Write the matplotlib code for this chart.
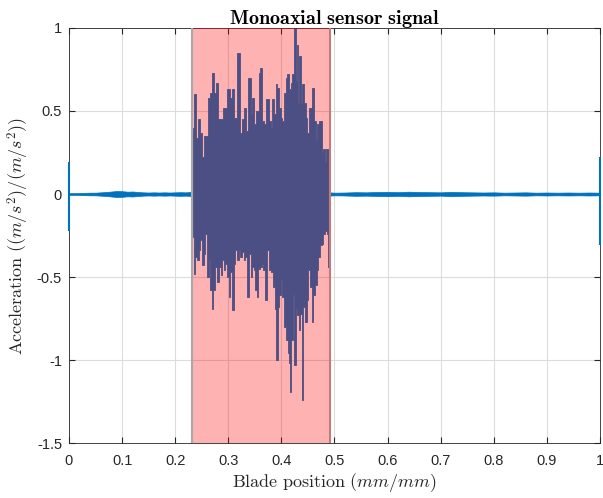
import numpy as np
import matplotlib
matplotlib.use('Agg')
import matplotlib.pyplot as plt

# signal: quiet noise band, burst peaks, edge spikes
quiet_left_x = [0.00, 0.01, 0.02, 0.03, 0.04, 0.05, 0.06, 0.07, 0.08, 0.09, 0.10, 0.11,
                0.12, 0.13, 0.14, 0.15, 0.16, 0.17, 0.18, 0.19, 0.20, 0.21, 0.22, 0.232]
quiet_left_amp = [0.005, 0.005, 0.006, 0.007, 0.008, 0.008, 0.010, 0.012, 0.015, 0.018, 0.017, 0.014,
                  0.015, 0.012, 0.010, 0.009, 0.010, 0.009, 0.010, 0.009, 0.010, 0.011, 0.010, 0.013]
quiet_right_x = [0.49, 0.50, 0.52, 0.54, 0.56, 0.58, 0.60, 0.62, 0.64, 0.66, 0.68, 0.70,
                 0.72, 0.74, 0.76, 0.78, 0.80, 0.82, 0.84, 0.86, 0.88, 0.90, 0.92, 0.94,
                 0.96, 0.98, 1.00]
quiet_right_amp = [0.010, 0.008, 0.009, 0.011, 0.010, 0.012, 0.013, 0.011, 0.014, 0.012, 0.011, 0.010,
                   0.013, 0.011, 0.010, 0.009, 0.010, 0.008, 0.009, 0.010, 0.008, 0.009, 0.008, 0.009,
                   0.008, 0.009, 0.008]

upper_x = [0.2335, 0.2373, 0.2420, 0.2448, 0.2486, 0.2518, 0.2561, 0.2600, 0.2637, 0.2674,
           0.2712, 0.2750, 0.2787, 0.2825, 0.2881, 0.2938, 0.3013, 0.3051, 0.3089, 0.3126,
           0.3202, 0.3239, 0.3277, 0.3315, 0.3352, 0.3409, 0.3437, 0.3465, 0.3503, 0.3559,
           0.3597, 0.3616, 0.3653, 0.3691, 0.3748, 0.3785, 0.3823, 0.3842, 0.3879, 0.3917,
           0.3936, 0.3974, 0.4011, 0.4030, 0.4087, 0.4105, 0.4124, 0.4162, 0.4200, 0.4218,
           0.4256, 0.4294, 0.4313, 0.4331, 0.4350, 0.4388, 0.4407, 0.4444, 0.4482, 0.4501,
           0.4539, 0.4576, 0.4595, 0.4633, 0.4670, 0.4689, 0.4727, 0.4765, 0.4783, 0.4802,
           0.4840, 0.4859, 0.4896]
upper_val = [0.40, 0.60, 0.34, 0.45, 0.37, 0.22, 0.35, 0.35, 0.58, 0.61,
             0.73, 0.61, 0.67, 0.45, 0.45, 0.52, 0.63, 0.58, 0.63, 0.46,
             0.85, 0.37, 0.45, 0.52, 0.38, 0.70, 0.48, 0.58, 0.42, 0.50,
             0.73, 0.76, 0.44, 0.42, 0.57, 0.44, 0.40, 0.57, 0.48, 0.66,
             0.64, 0.52, 0.46, 0.44, 0.61, 0.70, 0.72, 0.63, 0.67, 0.72,
             1.00, 0.68, 0.90, 0.55, 0.83, 0.55, 0.66, 0.55, 0.46, 0.37,
             0.52, 0.52, 0.64, 0.44, 0.33, 0.42, 0.44, 0.44, 0.25, 0.27,
             0.19, 0.27, 0.27]

lower_x = [0.2335, 0.2367, 0.2398, 0.2429, 0.2461, 0.2492, 0.2524, 0.2555, 0.2586, 0.2618,
           0.2650, 0.2680, 0.2700, 0.2731, 0.2774, 0.2806, 0.2838, 0.2869, 0.2900, 0.2932,
           0.2963, 0.2994, 0.3026, 0.3057, 0.3089, 0.3120, 0.3151, 0.3183, 0.3214, 0.3245,
           0.3277, 0.3309, 0.3339, 0.3371, 0.3403, 0.3434, 0.3465, 0.3497, 0.3527, 0.3559,
           0.3578, 0.3616, 0.3640, 0.3678, 0.3710, 0.3742, 0.3785, 0.3829, 0.3866, 0.3898,
           0.3917, 0.3942, 0.3974, 0.4005, 0.4036, 0.4081, 0.4105, 0.4130, 0.4156, 0.4175,
           0.4206, 0.4237, 0.4256, 0.4288, 0.4318, 0.4350, 0.4369, 0.4394, 0.4426, 0.4463,
           0.4495, 0.4526, 0.4552, 0.4589, 0.4620, 0.4652, 0.4683, 0.4714, 0.4746, 0.4778,
           0.4808, 0.4840, 0.4864, 0.4883, 0.4906]
lower_val = [-0.26, -0.48, -0.38, -0.40, -0.34, -0.28, -0.43, -0.36, -0.24, -0.50,
             -0.40, -0.58, -0.69, -0.58, -0.44, -0.53, -0.44, -0.49, -0.40, -0.46,
             -0.42, -0.50, -0.62, -0.47, -0.70, -0.42, -0.34, -0.40, -0.34, -0.38,
             -0.35, -0.40, -0.38, -0.62, -0.36, -0.50, -0.44, -0.46, -0.58, -0.62,
             -0.45, -0.44, -0.42, -0.46, -0.64, -0.34, -0.46, -0.47, -0.56, -0.69,
             -1.00, -0.68, -0.61, -0.52, -0.62, -0.80, -0.88, -0.96, -1.02, -1.19,
             -0.88, -0.61, -1.03, -0.69, -0.73, -0.82, -0.72, -1.24, -0.68, -0.77,
             -0.64, -0.46, -0.56, -0.77, -0.61, -0.55, -0.46, -0.38, -0.31, -0.30,
             -0.24, -0.22, -0.24, -0.44, -0.20]

spike_x = [0.0, 1.0]
spike_top = [0.19, 0.22]
spike_bottom = [-0.22, -0.31]

span_start, span_end = 0.232, 0.4915

plt.rcParams['mathtext.fontset'] = 'cm'
plt.rcParams['axes.unicode_minus'] = False
plt.rcParams['font.family'] = ['Liberation Sans', 'DejaVu Sans']

blue = '#0072BD'
fig = plt.figure(figsize=(6.03, 4.98), dpi=100)
ax = fig.add_axes([0.1144, 0.1104, 0.8806, 0.8334])

ax.fill_between(quiet_left_x, -np.array(quiet_left_amp), quiet_left_amp,
                color=blue, lw=0.5)
ax.fill_between(quiet_right_x, -np.array(quiet_right_amp), quiet_right_amp,
                color=blue, lw=0.5)
ax.fill_between(upper_x, 0, upper_val, color=blue, lw=0.6, step='mid')
ax.fill_between(lower_x, lower_val, 0, color=blue, lw=0.6, step='mid')
ax.vlines(spike_x, spike_bottom, spike_top, color=blue, lw=1.5, clip_on=False, zorder=5)

ax.axvspan(span_start, span_end, facecolor='red', alpha=0.3, edgecolor='none', zorder=3)
ax.axvline(span_start, color='#a8a8a8', lw=1.5, zorder=4)
ax.axvline(span_end, color='#c27a7a', lw=1.5, zorder=4)

ax.set_xlim(0, 1)
ax.set_ylim(-1.5, 1)
ax.set_xticks(np.arange(0, 1.01, 0.1))
ax.set_xticklabels(['0', '0.1', '0.2', '0.3', '0.4', '0.5', '0.6', '0.7', '0.8', '0.9', '1'])
ax.set_yticks([-1.5, -1, -0.5, 0, 0.5, 1])
ax.set_yticklabels(['-1.5', '-1', '-0.5', '0', '0.5', '1'])
ax.grid(True, color='#dcdcdc', lw=0.8)
ax.set_axisbelow(True)
ax.tick_params(direction='in', length=4, labelsize=10.5, colors='#262626',
               top=True, right=True)
ax.tick_params(axis='x', pad=8)
ax.tick_params(axis='y', pad=5)
for s in ax.spines.values():
    s.set_color('#262626')
    s.set_linewidth(0.6)

ax.set_title(r'$\mathbf{Monoaxial\ sensor\ signal}$', fontsize=14.5, pad=3)
ax.set_xlabel(r'$\mathrm{Blade\ position}\ (mm/mm)$', fontsize=13, color='#262626', labelpad=2)
ax.set_ylabel(r'$\mathrm{Acceleration}\ ((m/s^2)/(m/s^2))$', fontsize=13, color='#262626', labelpad=4)

fig.savefig('out.png', dpi=100)
